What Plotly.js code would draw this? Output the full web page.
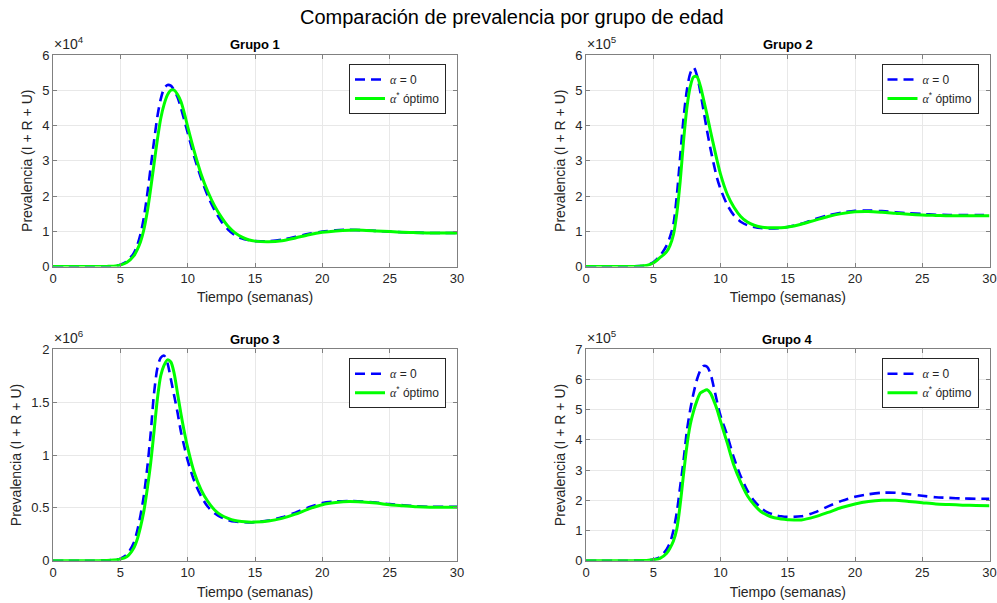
<!DOCTYPE html>
<html>
<head>
<meta charset="utf-8">
<script src="https://cdn.plot.ly/plotly-3.0.1.min.js"></script>
<style>html,body{margin:0;padding:0;background:#fff;}#chart{width:997px;height:603px;}</style>
</head>
<body>
<div id="chart"></div>
<script>
// Time (weeks)
const t = [0,1,2,3,4,4.5,5,5.5,6,6.25,6.5,6.75,7,7.25,7.5,7.75,8,8.25,8.5,8.75,9,9.25,9.5,9.75,10,10.5,11,11.5,12,12.5,13,13.5,14,14.5,15,16,17,18,19,20,21,22,23,24,25,26,27,28,29,30];

// Grupo 1 (x10^4)
const g1_alpha0 = [0,0,0,0,0.004,0.012,0.05,0.15,0.38,0.6,0.92,1.4,2.05,2.8,3.55,4.25,4.75,5.05,5.15,5.13,5.0,4.8,4.5,4.15,3.8,3.1,2.5,2.0,1.6,1.28,1.05,0.89,0.8,0.75,0.72,0.72,0.76,0.84,0.93,0.99,1.03,1.04,1.03,1.01,0.99,0.97,0.96,0.95,0.95,0.95];
const g1_optimo = [0,0,0,0,0.003,0.01,0.04,0.12,0.3,0.47,0.7,1.05,1.55,2.2,2.9,3.6,4.2,4.6,4.87,5.0,5.0,4.88,4.68,4.35,3.97,3.25,2.62,2.12,1.72,1.4,1.14,0.96,0.84,0.76,0.72,0.7,0.73,0.81,0.9,0.97,1.01,1.03,1.03,1.01,0.99,0.97,0.96,0.95,0.95,0.95];

// Grupo 2 (x10^5)
const g2_alpha0 = [0,0,0,0,0.01,0.035,0.12,0.3,0.6,0.85,1.2,2.0,3.1,4.2,5.0,5.48,5.65,5.42,4.95,4.4,3.85,3.35,2.9,2.5,2.2,1.75,1.45,1.27,1.17,1.12,1.09,1.08,1.08,1.09,1.12,1.21,1.34,1.45,1.53,1.58,1.59,1.57,1.54,1.51,1.49,1.47,1.46,1.46,1.46,1.46];
const g2_optimo = [0,0,0,0,0.01,0.03,0.1,0.25,0.42,0.6,0.9,1.5,2.4,3.55,4.5,5.1,5.38,5.38,5.12,4.72,4.3,3.85,3.42,3.0,2.62,2.05,1.68,1.42,1.26,1.17,1.12,1.1,1.1,1.1,1.12,1.2,1.31,1.42,1.5,1.55,1.56,1.54,1.51,1.48,1.46,1.45,1.44,1.44,1.44,1.44];

// Grupo 3 (x10^6)
const g3_alpha0 = [0,0,0,0,0.003,0.008,0.02,0.06,0.17,0.28,0.43,0.62,0.88,1.2,1.58,1.82,1.92,1.94,1.87,1.72,1.56,1.4,1.22,1.08,0.95,0.75,0.61,0.51,0.45,0.41,0.385,0.37,0.365,0.363,0.365,0.38,0.41,0.455,0.505,0.545,0.56,0.565,0.56,0.55,0.535,0.525,0.515,0.51,0.51,0.51];
const g3_optimo = [0,0,0,0,0.002,0.006,0.015,0.04,0.12,0.2,0.32,0.47,0.68,0.92,1.22,1.53,1.75,1.85,1.9,1.88,1.77,1.58,1.39,1.22,1.07,0.83,0.67,0.56,0.48,0.43,0.4,0.38,0.37,0.365,0.365,0.375,0.4,0.44,0.49,0.53,0.55,0.56,0.555,0.545,0.53,0.52,0.51,0.505,0.505,0.505];

// Grupo 4 (x10^5)
const g4_alpha0 = [0,0,0,0,0.005,0.012,0.04,0.12,0.38,0.6,1.0,1.6,2.45,3.3,4.3,5.0,5.55,6.0,6.3,6.45,6.42,6.2,5.75,5.25,4.8,4.15,3.4,2.8,2.32,1.98,1.75,1.6,1.52,1.47,1.45,1.47,1.6,1.8,1.98,2.12,2.2,2.25,2.25,2.2,2.15,2.1,2.08,2.06,2.05,2.05];
const g4_optimo = [0,0,0,0,0.005,0.01,0.03,0.08,0.25,0.42,0.65,1.05,1.85,2.85,3.8,4.5,4.95,5.3,5.55,5.62,5.66,5.55,5.3,5.0,4.62,3.9,3.15,2.6,2.15,1.85,1.63,1.5,1.42,1.38,1.36,1.35,1.45,1.6,1.76,1.88,1.96,2.0,2.0,1.96,1.92,1.88,1.86,1.84,1.83,1.82];

const groupNames = ['Grupo 1','Grupo 2','Grupo 3','Grupo 4'];
const exponents = ['4','5','6','5'];
const yMax = [6,6,2,7];
const yDtick = [1,1,0.5,1];
const xTicks = [0,5,10,15,20,25,30];
const seriesA0 = [g1_alpha0,g2_alpha0,g3_alpha0,g4_alpha0];
const seriesOpt = [g1_optimo,g2_optimo,g3_optimo,g4_optimo];
const nameA0 = '<span style="font-family:\'Liberation Serif\',serif"><i>α</i></span> = 0';
const nameOpt = '<span style="font-family:\'Liberation Serif\',serif"><i>α</i></span><sup>*</sup> óptimo';

const W = 997, H = 603;
const FONT = '"Liberation Sans", Arial, Helvetica, sans-serif';
const TXT = '#262626';
const AXC = '#808080';
// plot-area pixel boxes [left, right, top, bottom]
const boxes = [[53,457,55,266.5],[586,989.5,55,266.5],[53,457,349.3,560.7],[586,989.5,349.3,560.7]];

const traces = [];
const layout = {
  width: W, height: H,
  margin: {l:0, r:0, t:0, b:0},
  paper_bgcolor: '#ffffff', plot_bgcolor: '#ffffff',
  font: {family: FONT, color: TXT},
  showlegend: true,
  annotations: []
};

layout.annotations.push({
  text: 'Comparación de prevalencia por grupo de edad',
  x: 512/W, y: 1 - 17/H, xref: 'paper', yref: 'paper',
  xanchor: 'center', yanchor: 'middle', showarrow: false,
  font: {size: 20, color: '#000000', family: FONT}
});

for (let i = 0; i < 4; i++) {
  const s = i === 0 ? '' : String(i+1);
  const b = boxes[i];
  const legName = i === 0 ? 'legend' : 'legend' + (i+1);
  traces.push({
    x: t, y: seriesA0[i], xaxis: 'x'+s, yaxis: 'y'+s, type: 'scatter', mode: 'lines',
    name: nameA0, legend: legName,
    line: {color: '#0000ff', width: 2.6, dash: '10px,6px', shape: 'spline', smoothing: 0.8}
  });
  traces.push({
    x: t, y: seriesOpt[i], xaxis: 'x'+s, yaxis: 'y'+s, type: 'scatter', mode: 'lines',
    name: nameOpt, legend: legName,
    line: {color: '#00ff00', width: 3, shape: 'spline', smoothing: 0.8}
  });
  const common = {
    showline: true, mirror: 'ticks', linecolor: AXC, linewidth: 1,
    ticks: 'inside', ticklen: 4, tickcolor: AXC, tickwidth: 1,
    showgrid: true, gridcolor: '#e8e8e8', gridwidth: 1, zeroline: false,
    tickfont: {size: 13, color: TXT, family: FONT}, automargin: false,
    ticklabeloverflow: 'allow'
  };
  layout['xaxis'+s] = Object.assign({}, common, {
    domain: [b[0]/W, b[1]/W], anchor: 'y'+s, range: [0,30],
    tickvals: xTicks,
    title: {text: 'Tiempo (semanas)', font: {size: 14, color: TXT, family: FONT}, standoff: 7}
  });
  layout['yaxis'+s] = Object.assign({}, common, {
    domain: [1 - b[3]/H, 1 - b[2]/H], anchor: 'x'+s, range: [0, yMax[i]],
    dtick: yDtick[i], tick0: 0,
    title: {text: 'Prevalencia (I + R + U)', font: {size: 14, color: TXT, family: FONT}, standoff: 6}
  });
  layout.annotations.push({
    text: '<b>' + groupNames[i] + '</b>',
    x: (b[0]+b[1])/2/W, y: 1 - (b[2]-10)/H, xref: 'paper', yref: 'paper',
    xanchor: 'center', yanchor: 'middle', showarrow: false,
    font: {size: 13, color: '#000000', family: FONT}
  });
  layout.annotations.push({
    text: '×10<sup>' + exponents[i] + '</sup>',
    x: (b[0]-1)/W, y: 1 - (b[2]-1)/H, xref: 'paper', yref: 'paper',
    xanchor: 'left', yanchor: 'bottom', showarrow: false,
    font: {size: 14, color: TXT, family: FONT}
  });
  layout[legName] = {
    x: (b[1]-11)/W, y: 1 - (b[2]+9)/H, xanchor: 'right', yanchor: 'top',
    xref: 'paper', yref: 'paper',
    bgcolor: '#ffffff', bordercolor: '#262626', borderwidth: 1,
    font: {size: 12, color: TXT, family: FONT},
    tracegroupgap: 0
  };
}

Plotly.newPlot('chart', traces, layout, {displayModeBar: false, staticPlot: true});
</script>
</body>
</html>
